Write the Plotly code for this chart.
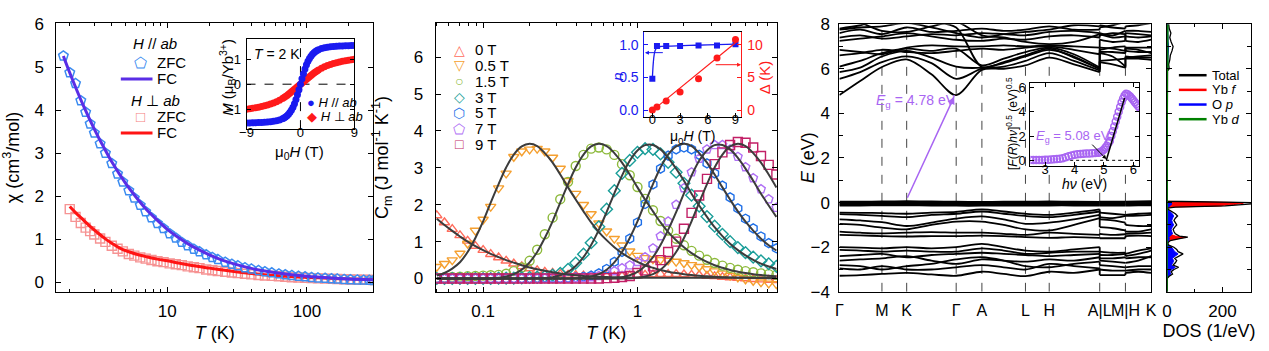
import plotly.graph_objects as go

W, H = 1269, 351
FONT = "Liberation Sans, Arial, sans-serif"
PURPLE = "#A865F2"


def xd(a, b):
    return [a / W, b / W]


def yd(top, bottom):
    return [1 - bottom / H, 1 - top / H]


# ---------------- Panel (a): susceptibility ----------------
T_ZFC_PAR = [1.8, 2.0, 2.2, 2.4, 2.6, 2.8, 3.0, 3.3, 3.6, 4.0, 4.4, 4.8, 5.3, 5.8, 6.4, 7.0, 7.7, 8.5, 9.4,
             10.4, 11.5, 12.7, 14, 15.5, 17, 19, 21, 23, 26, 29, 32, 36, 40, 45, 50, 56, 63, 70, 78, 87, 97,
             108, 120, 135, 150, 165, 185, 205, 230, 255, 280, 300]
CHI_ZFC_PAR = [5.26, 4.87, 4.62, 4.22, 3.95, 3.68, 3.47, 3.22, 3.00, 2.76, 2.52, 2.33, 2.13, 1.96, 1.79, 1.64,
               1.50, 1.37, 1.25, 1.13, 1.03, 0.93, 0.85, 0.77, 0.71, 0.64, 0.58, 0.53, 0.47, 0.42, 0.385, 0.34,
               0.31, 0.275, 0.25, 0.222, 0.198, 0.178, 0.16, 0.143, 0.129, 0.116, 0.105, 0.094, 0.085, 0.078,
               0.07, 0.064, 0.058, 0.053, 0.049, 0.046]
T_ZFC_PERP = [2.0, 2.2, 2.4, 2.6, 2.8, 3.0, 3.3, 3.6, 4.0, 4.4, 4.8, 5.3, 5.8, 6.4, 7.0, 7.7, 8.5, 9.4,
              10.4, 11.5, 12.7, 14, 15.5, 17, 19, 21, 23, 26, 29, 32, 36, 40, 45, 50, 56, 63, 70, 78, 87, 97,
              108, 120, 135, 150, 165, 185, 205, 230, 255, 280, 300]
CHI_ZFC_PERP = [1.70, 1.52, 1.38, 1.27, 1.19, 1.11, 1.02, 0.94, 0.85, 0.78, 0.72, 0.66, 0.62, 0.58, 0.55, 0.52,
                0.49, 0.47, 0.44, 0.42, 0.40, 0.37, 0.35, 0.33, 0.30, 0.28, 0.265, 0.245, 0.23, 0.215, 0.20,
                0.185, 0.17, 0.16, 0.15, 0.14, 0.13, 0.12, 0.112, 0.105, 0.098, 0.092, 0.086, 0.08, 0.076,
                0.071, 0.067, 0.063, 0.06, 0.057, 0.055]
T_FC_PAR = [1.8, 2, 2.5, 3, 3.5, 4, 5, 6, 7, 8, 10, 12, 15, 20, 25, 30, 40, 50, 70, 100, 150, 200, 300]
CHI_FC_PAR = [5.26, 4.87, 4.11, 3.56, 3.14, 2.80, 2.31, 1.97, 1.71, 1.52, 1.23, 1.04, 0.84, 0.64, 0.51, 0.43,
              0.325, 0.265, 0.195, 0.14, 0.10, 0.08, 0.062]
T_FC_PERP = [2.0, 2.2, 2.5, 2.8, 3.2, 3.6, 4.0, 4.6, 5.3, 6.2, 7.2, 8.5, 10, 12, 15, 20, 25, 32, 40, 50, 65,
             80, 100, 130, 170, 220, 300]
CHI_FC_PERP = [1.76, 1.62, 1.45, 1.30, 1.14, 1.01, 0.91, 0.79, 0.71, 0.64, 0.59, 0.54, 0.50, 0.45, 0.39, 0.33,
               0.285, 0.24, 0.205, 0.175, 0.15, 0.13, 0.115, 0.10, 0.085, 0.075, 0.062]

# inset (a): M(H) at 2 K
H_M = [-9, -8.5, -8, -7.5, -7, -6.5, -6, -5.5, -5, -4.5, -4, -3.5,
       -3, -2.75, -2.5, -2.25, -2, -1.75, -1.5, -1.25, -1, -0.75, -0.5, -0.25, 0, 0.25, 0.5, 0.75, 1,
       1.25, 1.5, 1.75, 2, 2.25, 2.5, 2.75, 3,
       3.5, 4, 4.5, 5, 5.5, 6, 6.5, 7, 7.5, 8, 8.5, 9]
M_PAR = [-1.555, -1.55, -1.545, -1.54, -1.535, -1.53, -1.52, -1.51, -1.50, -1.48, -1.46, -1.43,
         -1.38, -1.35, -1.31, -1.26, -1.20, -1.12, -1.03, -0.92, -0.78, -0.61, -0.42, -0.22, 0.0, 0.22, 0.42,
         0.61, 0.78, 0.92, 1.03, 1.12, 1.20, 1.26, 1.31, 1.35, 1.38,
         1.43, 1.46, 1.48, 1.50, 1.51, 1.52, 1.53, 1.535, 1.54, 1.545, 1.55, 1.555]
M_PERP = [-1.00, -0.98, -0.96, -0.94, -0.92, -0.89, -0.86, -0.83, -0.79, -0.75, -0.70, -0.64,
          -0.57, -0.53, -0.49, -0.45, -0.40, -0.35, -0.30, -0.25, -0.20, -0.15, -0.10, -0.05, 0.0, 0.05, 0.10,
          0.15, 0.20, 0.25, 0.30, 0.35, 0.40, 0.45, 0.49, 0.53, 0.57,
          0.64, 0.70, 0.75, 0.79, 0.83, 0.86, 0.89, 0.92, 0.94, 0.96, 0.98, 1.00]

# ---------------- Panel (b): magnetic specific heat ----------------
T_GRID = [0.0501, 0.0562, 0.0631, 0.0708, 0.0794, 0.0891, 0.1, 0.112, 0.126, 0.141, 0.158, 0.178, 0.2, 0.224,
          0.251, 0.282, 0.316, 0.355, 0.398, 0.447, 0.501, 0.562, 0.631, 0.708, 0.794, 0.891, 1.0, 1.12, 1.26,
          1.41, 1.58, 1.78, 2.0, 2.24, 2.51, 2.82, 3.16, 3.55, 3.98, 4.47, 5.01, 5.62, 6.31, 7.08, 7.94]
FIELD_LABELS = ["0 T", "0.5 T", "1.5 T", "3 T", "5 T", "7 T", "9 T"]
C_0T = [1.71, 1.52, 1.34, 1.17, 1.02, 0.88, 0.77, 0.66, 0.57, 0.48, 0.40, 0.33, 0.27, 0.22, 0.18,
        0.15, 0.12, 0.10, 0.09, 0.08, 0.07, 0.06, 0.06, 0.06, 0.07, 0.08, 0.09, 0.10, 0.11, 0.12,
        0.12, 0.12, 0.11, 0.10, 0.09, 0.07, 0.06, 0.04, 0.03, 0.01, 0.00, -0.02, -0.03, -0.04, -0.05]
C_05T = [0.32, 0.40, 0.50, 0.68, 0.95, 1.30, 1.60, 1.95, 2.45, 2.85, 3.30, 3.45, 3.50, 3.52, 3.45,
         3.28, 2.98, 2.65, 2.30, 2.00, 1.75, 1.50, 1.28, 1.08, 0.90, 0.74, 0.62, 0.56, 0.53, 0.51,
         0.49, 0.46, 0.42, 0.37, 0.32, 0.26, 0.20, 0.14, 0.08, 0.03, -0.02, -0.06, -0.10, -0.13, -0.15]
C_15T = [0.02, 0.03, 0.04, 0.05, 0.06, 0.07, 0.08, 0.09, 0.10, 0.13, 0.20, 0.30, 0.48, 0.78, 1.20,
         1.65, 2.15, 2.62, 3.05, 3.35, 3.52, 3.55, 3.50, 3.35, 3.10, 2.80, 2.48, 2.16, 1.85, 1.56,
         1.30, 1.08, 0.90, 0.75, 0.62, 0.51, 0.42, 0.35, 0.29, 0.24, 0.20, 0.17, 0.14, 0.12, 0.10]
C_3T = [0, 0, 0, 0, 0, 0, 0, 0, 0.01, 0.01, 0.01, 0.02, 0.03, 0.04, 0.06,
        0.09, 0.14, 0.25, 0.42, 0.66, 0.97, 1.40, 1.88, 2.38, 2.85, 3.20, 3.42, 3.52, 3.50, 3.38,
        3.15, 2.88, 2.58, 2.26, 1.96, 1.68, 1.42, 1.20, 1.00, 0.84, 0.70, 0.58, 0.48, 0.40, 0.33]
C_5T = [0, 0, 0, 0, 0, 0, 0, 0, 0, 0, 0, 0, 0, 0, 0.01,
        0.01, 0.01, 0.02, 0.03, 0.05, 0.08, 0.14, 0.26, 0.45, 0.72, 1.08, 1.52, 2.02, 2.55, 2.98,
        3.33, 3.50, 3.55, 3.50, 3.35, 3.12, 2.85, 2.52, 2.20, 1.90, 1.62, 1.36, 1.14, 0.96, 0.82]
C_7T = [0, 0, 0, 0, 0, 0, 0, 0, 0, 0, 0, 0, 0, 0, 0,
        0, 0, 0, 0.01, 0.02, 0.04, 0.07, 0.12, 0.20, 0.28, 0.36, 0.45, 0.58, 0.82, 1.15,
        1.55, 2.00, 2.45, 2.88, 3.25, 3.50, 3.62, 3.62, 3.50, 3.30, 3.02, 2.72, 2.42, 2.15, 1.92]
C_9T = [0, 0, 0, 0, 0, 0, 0, 0, 0, 0, 0, 0, 0, 0, 0,
        0, 0, 0, 0, 0, 0, 0, 0.01, 0.02, 0.04, 0.07, 0.15, 0.22, 0.33, 0.50,
        0.72, 1.00, 1.35, 1.78, 2.25, 2.70, 3.10, 3.42, 3.62, 3.70, 3.68, 3.55, 3.32, 3.08, 2.82]
FIT_0T = [1.62, 1.45, 1.29, 1.14, 1.00, 0.88, 0.77, 0.67, 0.58, 0.50, 0.43, 0.36, 0.30, 0.25, 0.21,
          0.17, 0.14, 0.11, 0.09, 0.07, 0.06, 0.05, 0.04, 0.035, 0.03, 0.025, 0.02, 0.02, 0.02, 0.02,
          0.02, 0.02, 0.02, 0.02, 0.02, 0.02, 0.02, 0.02, 0.02, 0.02, 0.02, 0.02, 0.02, 0.02, 0.02]
FIT_05T = [0.08, 0.15, 0.27, 0.44, 0.72, 1.10, 1.55, 2.06, 2.56, 3.01, 3.36, 3.58, 3.65, 3.59, 3.40,
           3.14, 2.82, 2.47, 2.14, 1.82, 1.52, 1.26, 1.04, 0.85, 0.69, 0.56, 0.45, 0.36, 0.29, 0.23,
           0.185, 0.148, 0.118, 0.094, 0.074, 0.06, 0.047, 0.037, 0.03, 0.024, 0.019, 0.015, 0.012, 0.01, 0.008]
FIT_15T = [0, 0, 0, 0, 0, 0, 0.002, 0.007, 0.021, 0.054, 0.12, 0.24, 0.44, 0.72, 1.10,
           1.55, 2.06, 2.56, 3.01, 3.36, 3.58, 3.65, 3.59, 3.40, 3.14, 2.82, 2.47, 2.14, 1.82, 1.52,
           1.26, 1.04, 0.85, 0.69, 0.56, 0.45, 0.36, 0.29, 0.23, 0.185, 0.148, 0.118, 0.094, 0.074, 0.06]
FIT_3T = [0, 0, 0, 0, 0, 0, 0, 0, 0, 0, 0, 0, 0.001, 0.005, 0.014,
          0.037, 0.087, 0.18, 0.34, 0.58, 0.91, 1.32, 1.80, 2.31, 2.79, 3.19, 3.47, 3.615, 3.62, 3.50,
          3.27, 2.98, 2.65, 2.30, 1.98, 1.67, 1.39, 1.15, 0.945, 0.77, 0.625, 0.505, 0.405, 0.325, 0.26]
FIT_5T = [0, 0, 0, 0, 0, 0, 0, 0, 0, 0, 0, 0, 0, 0, 0,
          0, 0, 0.002, 0.007, 0.021, 0.054, 0.12, 0.24, 0.44, 0.72, 1.10, 1.55, 2.06, 2.56, 3.01,
          3.36, 3.58, 3.65, 3.59, 3.40, 3.14, 2.82, 2.47, 2.14, 1.82, 1.54, 1.30, 1.08, 0.90, 0.76]
FIT_7T = [0, 0, 0, 0, 0, 0, 0, 0, 0, 0, 0, 0, 0, 0, 0,
          0, 0, 0, 0, 0, 0, 0.001, 0.005, 0.014, 0.037, 0.087, 0.18, 0.34, 0.58, 0.91,
          1.32, 1.80, 2.31, 2.79, 3.19, 3.47, 3.615, 3.62, 3.50, 3.27, 2.98, 2.65, 2.30, 1.98, 1.67]
FIT_9T = [0, 0, 0, 0, 0, 0, 0, 0, 0, 0, 0, 0, 0, 0, 0,
          0, 0, 0, 0, 0, 0, 0, 0, 0, 0.002, 0.007, 0.021, 0.054, 0.12, 0.24,
          0.44, 0.72, 1.10, 1.55, 2.06, 2.56, 3.01, 3.36, 3.58, 3.65, 3.59, 3.40, 3.14, 2.82, 2.47]
C_DATA = [C_0T, C_05T, C_15T, C_3T, C_5T, C_7T, C_9T]
C_FITS = [FIT_0T, FIT_05T, FIT_15T, FIT_3T, FIT_5T, FIT_7T, FIT_9T]
C_COLORS = ["#FF6B5B", "#F5A030", "#8DBA3C", "#1A9E99", "#1E6FE8", "#B070F5", "#C21F66"]
C_SYMBOLS = ["triangle-up-open", "triangle-down-open", "circle-open", "diamond-open", "hexagon-open",
             "pentagon-open", "square-open"]
C_GLYPHS = ["△", "▽", "○", "◇", "⬡", "⬠", "□"]

# inset (b): n and gap vs field
H_FIELD = [0, 0.5, 1.5, 3, 5, 7, 9]
N_VALS = [0.48, 0.98, 0.98, 0.98, 0.99, 0.99, 1.01]
DELTA_VALS = [0.05, 0.5, 1.4, 2.8, 4.8, 8.0, 10.8]
H_NFIT = [0, 0.1, 0.2, 0.35, 0.6, 1.0, 2, 4, 6, 9]
N_FIT = [0.48, 0.72, 0.85, 0.93, 0.965, 0.975, 0.98, 0.99, 1.0, 1.01]
H_DFIT = [0, 9]
DELTA_FIT = [-0.05, 10.3]

# ---------------- Panel (c): band structure / DOS ----------------
K_MAIN = [0, 21, 43, 68, 93, 118, 144, 166, 188, 212, 237, 263]
K_LM = [263, 276, 289]
K_HK = [289, 302, 315]
KPATH_TICKS = [0, 43, 68, 118, 144, 188, 212, 263, 289, 315]
KPATH_LABELS = ["Γ", "M", "K", "Γ", "A", "L", "H", "A|L", "M|H", "K"]

BANDS_MAIN = [
    [4.82, 5.45, 6.08, 6.42, 5.75, 4.82, 5.95, 6.00, 6.15, 6.50, 6.20, 5.85],
    [5.55, 5.85, 6.30, 6.55, 6.25, 5.55, 6.00, 6.10, 6.35, 6.70, 6.35, 5.92],
    [5.85, 6.05, 6.55, 6.80, 6.50, 6.10, 6.05, 6.25, 6.55, 6.85, 6.55, 5.98],
    [6.10, 6.35, 6.70, 6.90, 6.80, 6.90, 6.15, 6.45, 6.75, 6.95, 6.65, 6.05],
    [6.85, 6.75, 6.65, 6.95, 7.05, 7.00, 7.00, 7.05, 7.00, 7.05, 7.00, 6.95],
    [7.25, 7.35, 7.45, 7.60, 7.45, 7.30, 7.25, 7.35, 7.30, 7.45, 7.50, 7.40],
    [7.60, 7.75, 7.55, 7.85, 7.65, 7.70, 7.80, 7.70, 7.75, 7.90, 7.75, 7.75],
    [7.80, 7.95, 8.20, 8.30, 8.10, 7.85, 6.08, 6.30, 6.60, 6.90, 6.50, 6.00],
    [8.10, 8.05, 7.70, 7.65, 7.90, 8.10, 7.50, 7.40, 7.20, 7.10, 7.20, 7.55],
    [6.60, 6.70, 6.85, 6.75, 6.70, 6.80, 6.90, 6.85, 6.95, 7.00, 6.85, 6.65],
    [7.40, 7.50, 7.35, 7.45, 7.55, 7.50, 7.60, 7.55, 7.50, 7.65, 7.70, 7.60],
    [7.75, 7.85, 7.90, 8.05, 7.85, 7.60, 7.40, 7.55, 7.65, 7.75, 7.95, 7.90],
    [0.04, 0.04, 0.05, 0.06, 0.05, 0.04, 0.03, 0.04, 0.04, 0.05, 0.04, 0.03],
    [0.00, 0.00, 0.01, 0.01, 0.00, 0.00, -0.01, 0.00, 0.00, 0.01, 0.00, -0.01],
    [-0.05, -0.05, -0.04, -0.04, -0.05, -0.05, -0.06, -0.05, -0.05, -0.04, -0.05, -0.06],
    [-0.09, -0.09, -0.09, -0.08, -0.09, -0.10, -0.10, -0.09, -0.10, -0.09, -0.09, -0.10],
    [-0.13, -0.13, -0.12, -0.12, -0.13, -0.14, -0.14, -0.13, -0.14, -0.13, -0.13, -0.14],
    [-0.45, -0.46, -0.47, -0.50, -0.45, -0.42, -0.30, -0.40, -0.50, -0.55, -0.45, -0.30],
    [-0.52, -0.55, -0.60, -0.65, -0.55, -0.50, -0.40, -0.50, -0.60, -0.65, -0.55, -0.40],
    [-0.75, -0.80, -0.88, -1.05, -0.90, -0.72, -0.62, -0.75, -0.95, -0.90, -0.75, -0.55],
    [-0.95, -1.00, -1.12, -1.20, -1.00, -0.85, -0.85, -1.00, -1.20, -1.25, -1.00, -0.70],
    [-1.30, -1.35, -1.38, -1.35, -1.32, -1.35, -1.35, -1.40, -1.45, -1.35, -1.40, -1.45],
    [-1.45, -1.47, -1.50, -1.52, -1.50, -1.50, -1.48, -1.50, -1.55, -1.58, -1.55, -1.58],
    [-2.00, -2.02, -2.05, -2.00, -2.05, -2.00, -1.85, -2.00, -2.15, -2.20, -2.10, -2.00],
    [-2.12, -2.15, -2.20, -2.15, -2.20, -2.20, -2.05, -2.15, -2.30, -2.25, -2.20, -2.20],
    [-2.40, -2.35, -2.30, -2.45, -2.35, -2.30, -2.25, -2.30, -2.35, -2.40, -2.35, -2.30],
    [-2.60, -2.55, -2.50, -2.40, -2.60, -2.75, -2.55, -2.60, -2.65, -2.55, -2.60, -2.45],
    [-2.80, -2.85, -3.00, -2.85, -2.75, -2.55, -2.45, -2.60, -2.85, -2.90, -2.75, -2.65],
    [-2.95, -3.00, -2.85, -3.00, -3.00, -2.90, -2.80, -2.90, -3.00, -2.75, -2.85, -2.95],
    [-3.28, -3.25, -3.20, -3.15, -3.22, -3.28, -3.10, -3.20, -3.30, -3.10, -3.15, -3.00],
]
BANDS_LM = [
    [6.30, 6.20, 6.05], [6.70, 6.55, 6.10], [6.75, 6.75, 6.70], [6.95, 6.90, 6.80], [7.30, 7.20, 7.25],
    [7.60, 7.50, 7.70], [7.85, 7.95, 8.10], [6.35, 6.40, 6.45], [7.55, 7.40, 7.45],
    [6.85, 6.95, 7.00], [7.50, 7.60, 7.55], [7.95, 7.85, 7.80],
    [0.04, 0.04, 0.04], [0.00, 0.00, 0.00], [-0.05, -0.05, -0.05], [-0.09, -0.09, -0.09], [-0.13, -0.13, -0.13],
    [-0.45, -0.50, -0.55], [-0.65, -0.70, -0.60], [-0.75, -0.80, -0.90], [-1.10, -1.15, -1.25],
    [-1.40, -1.45, -1.42], [-1.60, -1.60, -1.60],
    [-2.20, -2.25, -2.25], [-2.35, -2.35, -2.30], [-2.50, -2.50, -2.45], [-2.60, -2.65, -2.70],
    [-2.80, -2.85, -2.90], [-3.00, -3.05, -3.05], [-3.25, -3.25, -3.25],
]
BANDS_HK = [
    [6.45, 6.45, 6.40], [6.55, 6.50, 6.50], [6.90, 6.85, 6.70], [6.95, 6.95, 6.95], [7.60, 7.55, 7.50],
    [7.70, 7.70, 7.65], [8.10, 8.10, 8.20], [6.50, 6.55, 6.60], [7.25, 7.20, 7.30],
    [6.80, 6.75, 6.75], [7.45, 7.40, 7.45], [7.90, 7.95, 8.05],
    [0.04, 0.05, 0.06], [0.00, 0.01, 0.01], [-0.05, -0.04, -0.04], [-0.09, -0.08, -0.08], [-0.13, -0.12, -0.12],
    [-0.55, -0.50, -0.47], [-0.60, -0.58, -0.55], [-1.00, -1.05, -1.05], [-1.30, -1.30, -1.20],
    [-1.40, -1.38, -1.35], [-1.50, -1.48, -1.50],
    [-2.30, -2.15, -2.05], [-2.40, -2.30, -2.15], [-2.50, -2.45, -2.45], [-2.70, -2.60, -2.40],
    [-2.90, -2.85, -2.85], [-3.05, -3.00, -3.00], [-3.15, -3.10, -3.15],
]

E_DOS = [-4.0, -3.4, -3.3, -3.2, -3.1, -3.0, -2.9, -2.8, -2.7, -2.6,
         -2.5, -2.4, -2.3, -2.2, -2.1, -2.0, -1.9, -1.8, -1.7, -1.6,
         -1.55, -1.5, -1.4, -1.3, -1.2, -1.1, -1.0, -0.9, -0.8, -0.7,
         -0.6, -0.5, -0.4, -0.3, -0.25, -0.2, -0.15, -0.12, -0.09, -0.06,
         -0.03, 0.0, 0.03, 0.06, 0.1, 5.8, 5.9, 6.0, 6.2, 6.4,
         6.6, 6.8, 7.0, 7.2, 7.4, 7.6, 7.8, 8.0]
DOS_TOTAL = [0, 0, 8, 20, 15, 25, 42, 22, 30, 35,
             28, 45, 58, 40, 35, 25, 5, 3, 12, 50,
             75, 45, 30, 25, 22, 28, 35, 30, 25, 30,
             38, 30, 15, 4, 1, 30, 210, 240, 285, 320,
             330, 320, 60, 2, 0, 0, 2, 8, 6, 10,
             12, 18, 22, 15, 10, 14, 8, 6]
DOS_YBF = [0, 0, 2, 4, 3, 5, 8, 4, 6, 7,
           6, 9, 12, 8, 7, 5, 1, 1, 5, 40,
           68, 30, 8, 6, 5, 7, 9, 8, 6, 8,
           12, 9, 4, 1, 0, 20, 195, 205, 240, 270,
           275, 265, 40, 0, 0, 0, 0, 1, 1, 1,
           1, 2, 2, 1, 1, 1, 1, 1]
DOS_OP = [0, 0, 5, 14, 10, 17, 30, 15, 21, 24,
          19, 32, 40, 28, 24, 17, 3, 2, 6, 9,
          6, 12, 20, 17, 15, 19, 24, 20, 17, 20,
          24, 19, 10, 3, 1, 6, 12, 15, 16, 18,
          16, 14, 5, 0, 0, 0, 1, 3, 2, 3,
          4, 5, 6, 4, 3, 4, 3, 2]
DOS_YBD = [0, 0, 1, 1, 1, 1, 2, 1, 1, 1,
           1, 2, 2, 2, 1, 1, 0, 0, 1, 1,
           2, 1, 1, 1, 1, 1, 1, 1, 1, 1,
           1, 1, 1, 0, 0, 1, 2, 2, 2, 2,
           2, 2, 1, 0, 0, 0, 1, 3, 3, 4,
           4, 5, 5, 4, 3, 4, 3, 3]
DOS_NAMES = ["Total", "Yb <i>f</i>", "O <i>p</i>", "Yb <i>d</i>"]
DOS_COLORS = ["black", "#FF0000", "#0000FF", "#008000"]

# inset (c): Kubelka-Munk plot
HV = [2.5, 2.6, 2.7, 2.8, 2.9, 3.0, 3.1, 3.2, 3.3, 3.4, 3.5, 3.6, 3.7, 3.8, 3.9, 4.0, 4.1, 4.2, 4.3, 4.4,
      4.5, 4.6, 4.7, 4.8, 4.85, 4.9, 4.95, 5.0, 5.05, 5.1, 5.15, 5.2, 5.25, 5.3, 5.35, 5.4, 5.45, 5.5,
      5.55, 5.6, 5.65, 5.7, 5.75, 5.8, 5.85, 5.9, 5.95, 6.0, 6.05, 6.1, 6.15, 6.2]
KM = [0.02, 0.02, 0.02, 0.03, 0.03, 0.04, 0.05, 0.06, 0.08, 0.1, 0.13, 0.18, 0.25, 0.33, 0.4, 0.45, 0.5,
      0.53, 0.55, 0.56, 0.57, 0.58, 0.6, 0.62, 0.65, 0.7, 0.78, 0.9, 1.05, 1.2, 1.4, 1.6, 2.0, 2.4, 2.8,
      3.2, 3.6, 4.0, 4.4, 4.8, 5.1, 5.35, 5.5, 5.45, 5.35, 5.25, 5.1, 4.95, 4.8, 4.65, 4.5, 4.35]
KM_FIT_X = [5.08, 5.70]
KM_FIT_Y = [0.0, 5.15]
KM_BASE_X = [3.85, 6.0]
KM_BASE_Y = [0.0, 0.0]

# axis ranges
LOGT_A = [0.206, 2.475]
CHI_RANGE = [-0.22, 6.02]
LOGT_B = [-1.308, 0.904]
C_RANGE = [-0.36, 6.92]
E_RANGE = [-4, 8]
DOS_RANGE = [0, 303]
HV_RANGE = [2.5, 6.2]
KM_RANGE = [-0.47, 6.4]

fig = go.Figure()

# ---- panel a ----
fig.add_trace(go.Scatter(x=T_ZFC_PERP, y=CHI_ZFC_PERP, mode="markers", xaxis="x", yaxis="y",
                         marker=dict(symbol="square-open", size=9, color="#F58080", line=dict(width=1.4)),
                         opacity=0.85))
fig.add_trace(go.Scatter(x=T_FC_PERP, y=CHI_FC_PERP, mode="lines", xaxis="x", yaxis="y",
                         line=dict(color="#FF1414", width=3, shape="spline")))
fig.add_trace(go.Scatter(x=T_ZFC_PAR, y=CHI_ZFC_PAR, mode="markers", xaxis="x", yaxis="y",
                         marker=dict(symbol="pentagon-open", size=10, color="#3C8CF0", line=dict(width=1.5))))
fig.add_trace(go.Scatter(x=T_FC_PAR, y=CHI_FC_PAR, mode="lines", xaxis="x", yaxis="y",
                         line=dict(color="#5A2EE6", width=3, shape="spline")))

# ---- inset a ----
fig.add_trace(go.Scatter(x=H_M, y=M_PERP, mode="markers", xaxis="x2", yaxis="y2",
                         marker=dict(symbol="circle", size=7, color="#FF1A1A")))
fig.add_trace(go.Scatter(x=H_M, y=M_PAR, mode="markers", xaxis="x2", yaxis="y2",
                         marker=dict(symbol="circle", size=7, color="#1A1AF0")))

# ---- panel b ----
for cdat, col, sym in zip(C_DATA, C_COLORS, C_SYMBOLS):
    fig.add_trace(go.Scatter(x=T_GRID, y=cdat, mode="markers", xaxis="x3", yaxis="y3",
                             marker=dict(symbol=sym, size=9, color=col, line=dict(width=1.4))))
for cfit in C_FITS:
    fig.add_trace(go.Scatter(x=T_GRID, y=cfit, mode="lines", xaxis="x3", yaxis="y3",
                             line=dict(color="#3C3C3C", width=2, shape="spline")))

# ---- inset b ----
fig.add_trace(go.Scatter(x=H_NFIT, y=N_FIT, mode="lines", xaxis="x4", yaxis="y4",
                         line=dict(color="#1A1AF0", width=1.3, shape="spline")))
fig.add_trace(go.Scatter(x=H_FIELD, y=N_VALS, mode="markers", xaxis="x4", yaxis="y4",
                         marker=dict(symbol="square", size=6, color="#1A1AF0")))
fig.add_trace(go.Scatter(x=H_DFIT, y=DELTA_FIT, mode="lines", xaxis="x4", yaxis="y5",
                         line=dict(color="#FF1A1A", width=1.2)))
fig.add_trace(go.Scatter(x=H_FIELD, y=DELTA_VALS, mode="markers", xaxis="x4", yaxis="y5",
                         marker=dict(symbol="circle", size=7, color="#FF1A1A")))


# ---- bands ----
def joined(kx, bands):
    xs, ys = [], []
    for b in bands:
        xs += list(kx) + [None]
        ys += list(b) + [None]
    return xs, ys


for kx, bset in ((K_MAIN, BANDS_MAIN), (K_LM, BANDS_LM), (K_HK, BANDS_HK)):
    bx, by = joined(kx, bset)
    fig.add_trace(go.Scatter(x=bx, y=by, mode="lines", xaxis="x6", yaxis="y6",
                             line=dict(color="black", width=1.8, shape="spline", smoothing=0.9)))
cx, cy = [], []
for m, lm, hk in zip(BANDS_MAIN, BANDS_LM, BANDS_HK):
    cx += [K_LM[0], K_LM[0], None, K_HK[0], K_HK[0], None]
    cy += [m[-1], lm[0], None, lm[-1], hk[0], None]
fig.add_trace(go.Scatter(x=cx, y=cy, mode="lines", xaxis="x6", yaxis="y6",
                         line=dict(color="black", width=1.8)))

# ---- DOS ----
fig.add_trace(go.Scatter(x=DOS_YBF, y=E_DOS, mode="lines", fill="tozerox", xaxis="x7", yaxis="y7",
                         line=dict(color="#FF0000", width=1), fillcolor="#FF0000"))
fig.add_trace(go.Scatter(x=DOS_OP, y=E_DOS, mode="lines", fill="tozerox", xaxis="x7", yaxis="y7",
                         line=dict(color="#0000FF", width=1), fillcolor="#0000FF"))
fig.add_trace(go.Scatter(x=DOS_TOTAL, y=E_DOS, mode="lines", xaxis="x7", yaxis="y7",
                         line=dict(color="black", width=1.3)))
fig.add_trace(go.Scatter(x=DOS_YBD, y=E_DOS, mode="lines", xaxis="x7", yaxis="y7",
                         line=dict(color="#008000", width=1.5)))

# ---- inset c ----
fig.add_trace(go.Scatter(x=KM_BASE_X, y=KM_BASE_Y, mode="lines", xaxis="x8", yaxis="y8",
                         line=dict(color="black", width=1, dash="dot")))
fig.add_trace(go.Scatter(x=HV, y=KM, mode="markers", xaxis="x8", yaxis="y8",
                         marker=dict(symbol="circle-open", size=7, color=PURPLE, line=dict(width=1.5))))
fig.add_trace(go.Scatter(x=KM_FIT_X, y=KM_FIT_Y, mode="lines", xaxis="x8", yaxis="y8",
                         line=dict(color="black", width=1.5)))


def axis(**kw):
    base = dict(showline=True, linecolor="black", linewidth=1, mirror="allticks", ticks="inside",
                ticklen=5, tickcolor="black", tickwidth=1, showgrid=False, zeroline=False,
                tickfont=dict(size=17, color="black"), ticklabelstandoff=4)
    base.update(kw)
    return base


MINOR_LOG = dict(ticks="inside", ticklen=3, tickcolor="black", dtick="D1", showgrid=False)
MINOR_E = dict(ticks="inside", ticklen=4, tickcolor="black", dtick=1, showgrid=False)

layout = dict(
    width=W, height=H, margin=dict(l=0, r=0, t=0, b=0), paper_bgcolor="white", plot_bgcolor="white",
    font=dict(family=FONT, color="black"), showlegend=False,
    xaxis=axis(type="log", range=LOGT_A, domain=xd(50, 370), anchor="y", dtick=1, minor=MINOR_LOG,
               title=dict(text="<i>T</i> (K)", font=dict(size=18), standoff=6)),
    yaxis=axis(range=CHI_RANGE, domain=yd(15, 299), anchor="x", dtick=1, ticklabelstandoff=8,
               title=dict(text="χ (cm<sup>3</sup>/mol)", font=dict(size=18), standoff=13)),
    xaxis2=axis(range=[-9, 9], domain=xd(242, 351), anchor="y2", tickvals=[-9, 0, 9], ticklen=4,
                ticklabelstandoff=-9, tickfont=dict(size=13)),
    yaxis2=axis(range=[-1.8, 1.8], domain=yd(32, 127), anchor="x2", tickvals=[-1, 0, 1], ticklen=4,
                ticklabelstandoff=2, tickfont=dict(size=13)),
    xaxis3=axis(type="log", range=LOGT_B, domain=xd(433, 778), anchor="y3", dtick=1, minor=MINOR_LOG,
                title=dict(text="<i>T</i> (K)", font=dict(size=18), standoff=6)),
    yaxis3=axis(range=C_RANGE, domain=yd(15, 299), anchor="x3", tickvals=[0, 1, 2, 3, 4, 5, 6],
                ticklabelstandoff=8,
                title=dict(text="C<sub>m</sub> (J mol<sup>-1</sup> K<sup>-1</sup>)", font=dict(size=18),
                           standoff=20)),
    xaxis4=axis(range=[-0.86, 9.64], domain=xd(644, 742), anchor="y4", tickvals=[0, 3, 6, 9], ticklen=4,
                mirror=True, ticklabelstandoff=-9, tickfont=dict(size=13)),
    yaxis4=axis(range=[-0.1, 1.2], domain=yd(24, 114), anchor="x4", tickvals=[0, 0.5, 1.0],
                ticktext=["0.0", "0.5", "1.0"], mirror=False, linecolor="#1A1AF0", tickcolor="#1A1AF0",
                ticklen=4, ticklabelstandoff=2, tickfont=dict(size=14, color="#1A1AF0")),
    yaxis5=axis(range=[-1.0, 12.0], overlaying="y4", anchor="x4", side="right", tickvals=[0, 5, 10],
                mirror=False, linecolor="#FF1A1A", tickcolor="#FF1A1A", ticklen=4, ticklabelstandoff=2,
                tickfont=dict(size=14, color="#FF1A1A")),
    xaxis6=axis(range=[0, 315], domain=xd(841, 1156), anchor="y6", tickvals=KPATH_TICKS, ticktext=KPATH_LABELS,
                ticks="", mirror=True, tickangle=0, tickfont=dict(size=16)),
    yaxis6=axis(range=E_RANGE, domain=yd(16, 299), anchor="x6", dtick=2, ticklabelstandoff=5, minor=MINOR_E),
    xaxis7=axis(range=DOS_RANGE, domain=xd(1172, 1257), anchor="y7", tick0=0, dtick=200,
                minor=dict(ticks="inside", ticklen=3, tickcolor="black", dtick=100, showgrid=False),
                title=dict(text="DOS (1/eV)", font=dict(size=18), standoff=4)),
    yaxis7=axis(range=E_RANGE, domain=yd(16, 299), anchor="x7", dtick=2, showticklabels=False, minor=MINOR_E),
    xaxis8=axis(range=HV_RANGE, domain=xd(1034, 1144), anchor="y8", tickvals=[3, 4, 5, 6], ticklen=4,
                ticklabelstandoff=-9, tickfont=dict(size=13)),
    yaxis8=axis(range=KM_RANGE, domain=yd(78, 166), anchor="x8", tickvals=[0, 2, 4, 6], ticklen=4,
                ticklabelstandoff=1, tickfont=dict(size=13)),
)
fig.update_layout(**layout)

# guide lines
fig.add_shape(type="line", xref="x2", yref="y2", x0=0, x1=0, y0=-1.8, y1=1.8,
              line=dict(color="black", width=1, dash="dash"), layer="below")
fig.add_shape(type="line", xref="x2", yref="y2", x0=-9, x1=9, y0=0, y1=0,
              line=dict(color="black", width=1, dash="dash"), layer="below")
for k in KPATH_TICKS[1:-1]:
    fig.add_shape(type="line", xref="x6", yref="y6", x0=k, x1=k, y0=E_RANGE[0], y1=E_RANGE[1],
                  line=dict(color="#444444", width=1, dash="dash"), layer="below")
fig.add_shape(type="rect", xref="x8", yref="y8", x0=HV_RANGE[0], x1=HV_RANGE[1], y0=KM_RANGE[0],
              y1=KM_RANGE[1], fillcolor="white", line=dict(width=0), layer="below")


# ---------------- legends and titles placed in pixel positions ----------------
def px(x):
    return x / W


def py(y):
    return 1 - y / H


def label(x, y, text, size=15, color="black", anchor="left", angle=0):
    fig.add_annotation(xref="paper", yref="paper", x=px(x), y=py(y), text=text, showarrow=False,
                       xanchor=anchor, yanchor="middle", textangle=angle, font=dict(size=size, color=color))


def keyline(x0, x1, y, color, width):
    fig.add_shape(type="line", xref="paper", yref="paper", x0=px(x0), x1=px(x1), y0=py(y), y1=py(y),
                  line=dict(color=color, width=width))


# band-structure y title
label(809, 157, "<i>E</i> (eV)", size=18, anchor="center", angle=-90)

# inset titles
label(296, 152, "μ<sub>0</sub><i>H</i> (T)", size=15, anchor="center")
label(222, 72, "<i>M</i> (μ<sub>B</sub>/Yb<sup>3+</sup>)", size=15, anchor="center", angle=-90)
label(693, 135, "μ<sub>0</sub><i>H</i> (T)", size=14, anchor="center")
label(616, 72, "<i>n</i>", size=15, color="#1A1AF0", anchor="center", angle=-90)
label(765, 73, "Δ (K)", size=15, color="#FF1A1A", anchor="center", angle=-90)
label(1089, 185, "<i>hν</i> (eV)", size=14, anchor="center")
label(1016, 121, "[<i>F</i>(<i>R</i>)<i>hν</i>]<sup>0.5</sup> (eV)<sup>0.5</sup>", size=12, anchor="center",
      angle=-90)

# panel a legend
label(150, 37, "<i>H</i> // <i>ab</i>", anchor="center")
label(135, 57, "⬠", size=15, color="#3C8CF0", anchor="center")
label(150, 57, "ZFC")
keyline(115, 147, 74, "#5A2EE6", 3)
label(150, 74, "FC")
label(150, 97, "<i>H</i> ⊥ <i>ab</i>", anchor="center")
label(135, 114, "□", size=15, color="#F58080", anchor="center")
label(150, 114, "ZFC")
keyline(115, 147, 131, "#FF1414", 3)
label(150, 131, "FC")

# inset a legend
label(301, 99, "<span style='color:#1A1AF0'>●</span> <i>H</i> // <i>ab</i>", size=13)
label(301, 114, "<span style='color:#FF1A1A'>◆</span> <i>H</i> ⊥ <i>ab</i>", size=13)

# panel b legend
for i, (lab, col, gl) in enumerate(zip(FIELD_LABELS, C_COLORS, C_GLYPHS)):
    yy = 43 + i * 16.7
    label(457, yy, gl, size=14, color=col, anchor="center")
    label(471, yy, lab, size=15)

# DOS legend
for i, (nm, col) in enumerate(zip(DOS_NAMES, DOS_COLORS)):
    yy = 70 + i * 15.5
    keyline(1184, 1212, yy, col, 2.5)
    label(1215, yy, nm, size=13)

# annotations
fig.add_annotation(xref="x2 domain", yref="y2 domain", x=0.05, y=0.95, xanchor="left", yanchor="top",
                   text="<i>T</i> = 2 K", showarrow=False, font=dict(size=14))
fig.add_annotation(xref="x4", yref="y4", x=-0.8, y=0.88, axref="x4", ayref="y4", ax=1.3, ay=0.88,
                   text="", showarrow=True, arrowhead=2, arrowsize=0.8, arrowwidth=1, arrowcolor="#1A1AF0")
fig.add_annotation(xref="x4", yref="y5", x=9.6, y=6.96, axref="x4", ayref="y5", ax=6.7, ay=6.96,
                   text="", showarrow=True, arrowhead=2, arrowsize=0.8, arrowwidth=1, arrowcolor="#FF1A1A")
fig.add_annotation(xref="x6", yref="y6", x=116, y=4.75, axref="x6", ayref="y6", ax=68, ay=0.15,
                   text="", showarrow=True, arrowhead=2, arrowsize=1, arrowwidth=1.5, arrowcolor=PURPLE)
fig.add_annotation(xref="x6", yref="y6", x=77, y=4.55, text="<i>E</i><sub>g</sub> = 4.78 eV",
                   showarrow=False, font=dict(size=14, color=PURPLE))
fig.add_annotation(xref="x8", yref="y8", x=5.08, y=0.1, axref="x8", ayref="y8", ax=4.55, ay=1.42,
                   text="", showarrow=True, arrowhead=2, arrowsize=0.8, arrowwidth=1, arrowcolor="black")
fig.add_annotation(xref="x8", yref="y8", x=3.95, y=1.95, text="<i>E</i><sub>g</sub> = 5.08 eV",
                   showarrow=False, font=dict(size=13, color=PURPLE))

fig.write_html("out.html")
